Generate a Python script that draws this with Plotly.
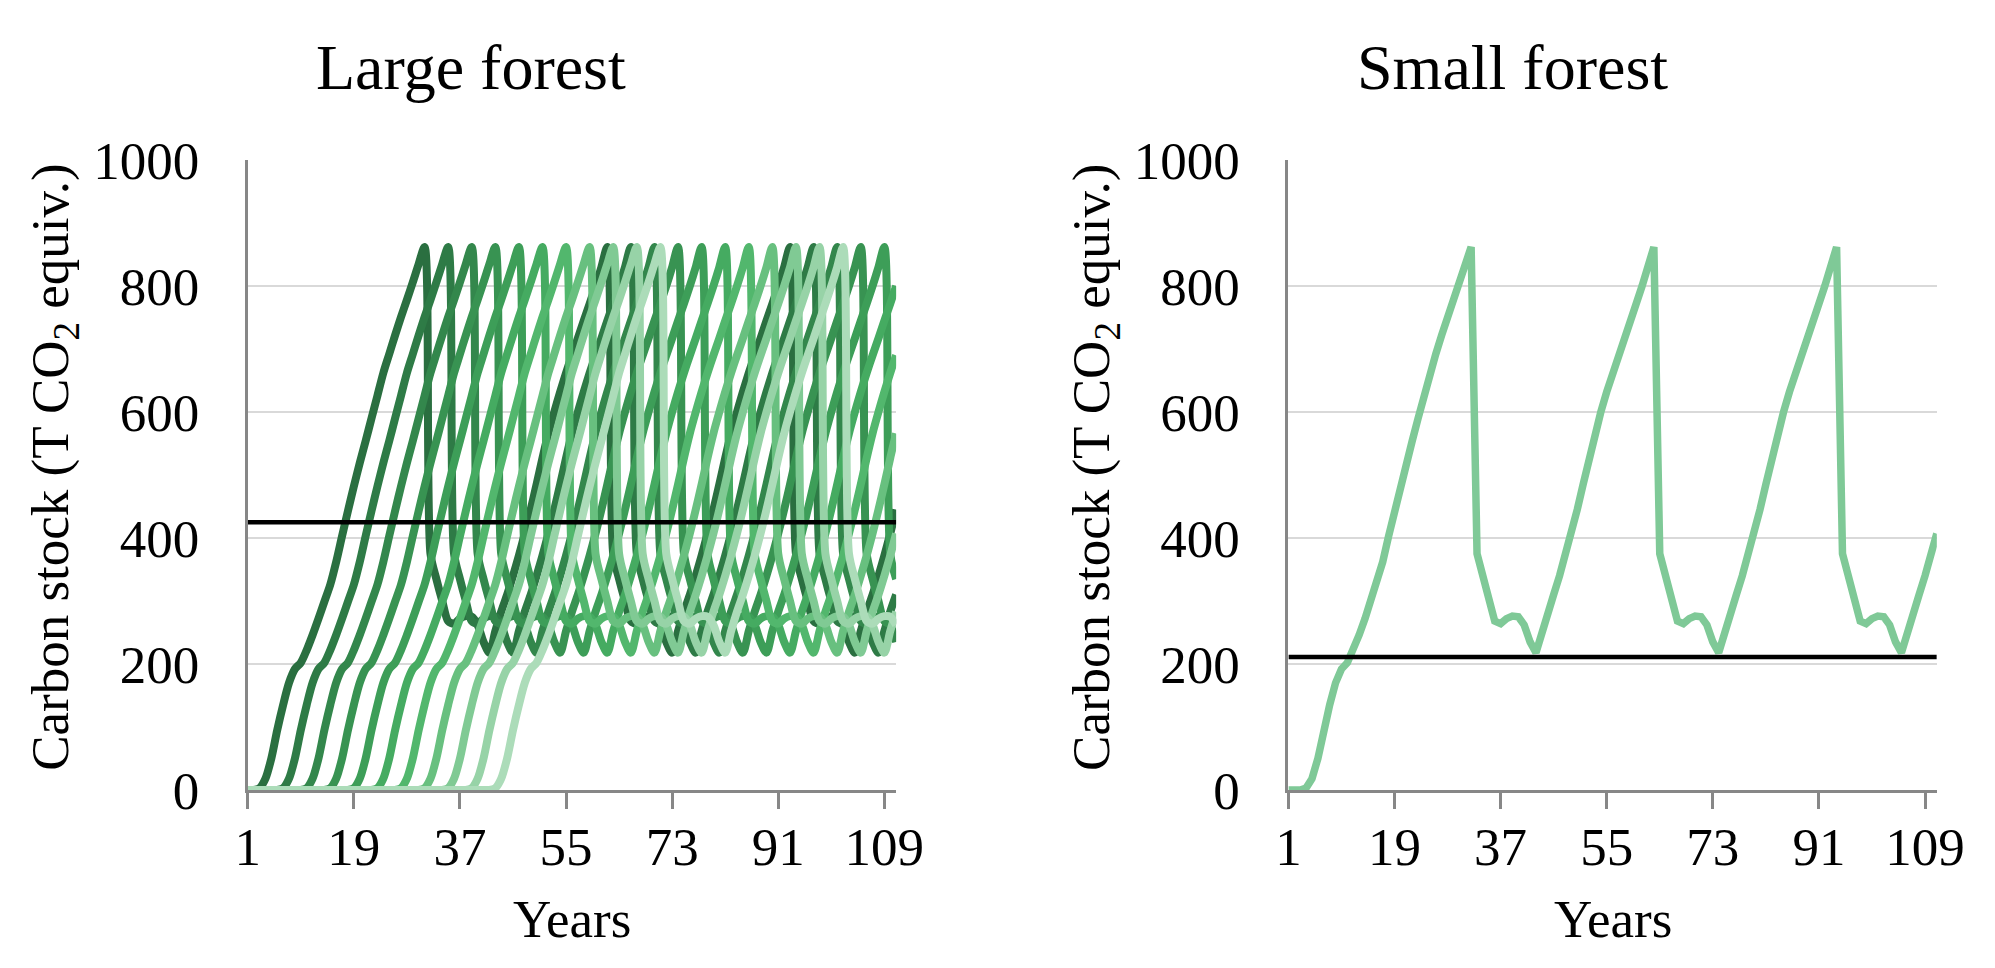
from __future__ import annotations
from typing import List

import plotly.graph_objects as go


# ---- data ----------------------------------------------------------------
YEARS = list(range(1, 112))
X_TICKS = [1, 19, 37, 55, 73, 91, 109]
Y_TICKS = [0, 200, 400, 600, 800, 1000]

# carbon stock of one stand by age (T CO2 equiv.), first rotation from bare land
FIRST_ROTATION = [
    0, 0, 0, 3, 18, 50, 95, 135, 170, 192, 202, 222, 246, 272, 299, 326,
    362, 403, 443, 482, 519, 554, 590, 626, 662, 692, 722, 751, 778, 806,
    835, 862,
]
# every later rotation: harvest drop, residual decay, regrowth
LATER_ROTATION = [
    375, 335, 300, 268, 264, 272, 276, 275, 262, 235, 218, 252, 283, 310,
    340, 372, 407, 445, 485, 527, 566, 600, 632, 662, 690, 717, 745, 772,
    800, 830, 862,
]

SMALL_PLANTED = 1                      # small forest: one stand, year 1
LARGE_PLANTED = [0, 4, 8, 12, 16, 20, 24, 28, 32, 36, 40]
STAND_COLORS = [
    "#2a6f40", "#2e7b46", "#33874c", "#389352", "#3d9e58", "#45ab61",
    "#52b76d", "#68c07f", "#80ca94", "#97d3a7", "#acdcb9",
]
SMALL_COLOR = "#7fc997"

LARGE_BASELINE = 425
SMALL_BASELINE = 211

FONT = "Liberation Serif, Times New Roman, serif"
W, H = 1995, 968


def _stand_series(planted: int) -> List[float]:
    """Stock of a stand planted in `planted`, for every year in YEARS."""
    profile = list(FIRST_ROTATION)
    while len(profile) < len(YEARS) + 2:
        profile += LATER_ROTATION
    return [profile[y - planted] if y >= planted else 0 for y in YEARS]


def _px(x: float) -> float:
    return x / W


def _py(y: float) -> float:
    return 1 - y / H


def _axis_pair(xdom, ydom, anchor_x: str, anchor_y: str):
    xa = dict(
        domain=xdom, anchor=anchor_y, range=[1, 111], tickvals=X_TICKS,
        showgrid=False, zeroline=False,
        showline=True, linecolor="#878787", linewidth=3,
        ticks="outside", ticklen=16, tickwidth=3, tickcolor="#878787",
        ticklabelstandoff=-8,
        tickfont=dict(family=FONT, size=53, color="black"),
    )
    ya = dict(
        domain=ydom, anchor=anchor_x, range=[0, 1000], tickvals=Y_TICKS,
        showgrid=True, gridcolor="#d9d9d9", gridwidth=2,
        zeroline=False, showline=True, linecolor="#878787", linewidth=3,
        ticks="", ticklabelstandoff=35,
        tickfont=dict(family=FONT, size=53, color="black"),
    )
    return xa, ya


def main() -> None:
    fig = go.Figure()

    # Large forest: one smoothed line per stand, lighter stands drawn on top
    for planted, color in zip(LARGE_PLANTED, STAND_COLORS):
        fig.add_trace(go.Scatter(
            x=YEARS, y=_stand_series(planted), mode="lines",
            line=dict(color=color, width=8, shape="spline", smoothing=0.8),
            xaxis="x", yaxis="y", showlegend=False, hoverinfo="skip",
        ))
    fig.add_trace(go.Scatter(
        x=YEARS, y=[LARGE_BASELINE] * len(YEARS), mode="lines",
        line=dict(color="black", width=4.5), xaxis="x", yaxis="y",
        showlegend=False, hoverinfo="skip",
    ))

    # Small forest: a single stand
    fig.add_trace(go.Scatter(
        x=YEARS, y=_stand_series(SMALL_PLANTED), mode="lines",
        line=dict(color=SMALL_COLOR, width=7.5),
        xaxis="x2", yaxis="y2", showlegend=False, hoverinfo="skip",
    ))
    fig.add_trace(go.Scatter(
        x=YEARS, y=[SMALL_BASELINE] * len(YEARS), mode="lines",
        line=dict(color="black", width=4.5), xaxis="x2", yaxis="y2",
        showlegend=False, hoverinfo="skip",
    ))

    ydom = [_py(802), _py(132)]
    x1, y1 = _axis_pair([_px(231.5), _px(893.5)], ydom, "x", "y")
    x2, y2 = _axis_pair([_px(1294), _px(1956)], ydom, "x2", "y2")

    ytitle = "Carbon stock (T CO<sub>2</sub> equiv.)"
    notes = [
        ("Large forest", 459, 34, 64, 0),
        ("Small forest", 1523, 34, 64, 0),
        (ytitle, 34, 459, 53, -90),
        (ytitle, 1097, 459, 53, -90),
        ("Years", 562.5, 939, 53, 0),
        ("Years", 1625, 939, 53, 0),
    ]
    for text, x, y, size, angle in notes:
        fig.add_annotation(
            text=text, x=_px(x), y=_py(y), xref="paper", yref="paper",
            xanchor="center", yanchor="middle", showarrow=False,
            textangle=angle, font=dict(family=FONT, size=size, color="black"),
        )

    fig.update_layout(
        xaxis=x1, yaxis=y1, xaxis2=x2, yaxis2=y2,
        width=W, height=H, margin=dict(l=0, r=0, t=0, b=0),
        paper_bgcolor="white", plot_bgcolor="white",
        font=dict(family=FONT, color="black"),
    )
    fig.write_html("out.html")


if __name__ == "__main__":
    main()
